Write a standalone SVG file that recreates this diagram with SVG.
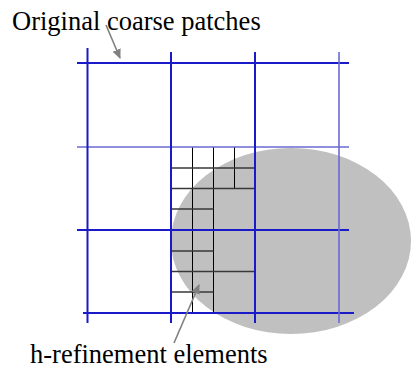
<svg xmlns="http://www.w3.org/2000/svg" width="414" height="371" viewBox="0 0 414 371">
  <defs>
    <style>
      .coarse { stroke: #1a1ac8; stroke-width: 2; fill: none; }
      .coarse-lt { stroke: #6a6ad2; stroke-width: 1.6; fill: none; }
      .fine-v { stroke: #000000; stroke-width: 1; fill: none; }
      .fine-h { stroke: #383838; stroke-width: 1.4; fill: none; }
      .lead { stroke: #808080; stroke-width: 1.6; fill: none; }
      .label { font-family: "Liberation Serif", "Times New Roman", serif; font-size: 26.5px; fill: #000000; }
    </style>
    <marker id="tip" viewBox="0 0 10 10" refX="9" refY="5" markerWidth="6" markerHeight="6" markerUnits="strokeWidth" orient="auto">
      <path d="M0,0.5 L10,5 L0,9.5 Z" fill="#808080"/>
    </marker>
  </defs>

  <rect width="414" height="371" fill="#ffffff"/>

  <!-- refinement region -->
  <g id="region">
    <ellipse cx="291" cy="241" rx="120" ry="93" fill="#c0c0c0"/>
  </g>

  <!-- h-refined sub-elements inside one coarse cell -->
  <g id="fine-grid">
    <line class="fine-v" x1="192.5" y1="147" x2="192.5" y2="313"/>
    <line class="fine-v" x1="213.5" y1="147" x2="213.5" y2="313"/>
    <line class="fine-v" x1="234.5" y1="147" x2="234.5" y2="188.5"/>
    <line class="fine-h" x1="171" y1="168" x2="255" y2="168"/>
    <line class="fine-h" x1="171" y1="188.5" x2="255" y2="188.5"/>
    <line class="fine-h" x1="171" y1="209" x2="213.5" y2="209"/>
    <line class="fine-h" x1="171" y1="251" x2="213.5" y2="251"/>
    <line class="fine-h" x1="171" y1="271.5" x2="255" y2="271.5"/>
    <line class="fine-h" x1="171" y1="292" x2="213.5" y2="292"/>
  </g>

  <!-- coarse patch boundaries -->
  <g id="coarse-grid">
    <line class="coarse" x1="77" y1="63" x2="349" y2="63"/>
    <line class="coarse-lt" x1="77" y1="147" x2="349" y2="147"/>
    <line class="coarse" x1="77" y1="230" x2="349" y2="230"/>
    <line class="coarse" x1="83" y1="313" x2="354" y2="313"/>
    <line class="coarse" x1="87.5" y1="48" x2="87.5" y2="323"/>
    <line class="coarse" x1="171" y1="52" x2="171" y2="323"/>
    <line class="coarse" x1="255" y1="52" x2="255" y2="323"/>
    <line class="coarse-lt" x1="339" y1="52" x2="339" y2="323"/>
  </g>

  <!-- leader arrows -->
  <g id="connectors">
    <line class="lead" x1="106" y1="25" x2="120" y2="58" marker-end="url(#tip)"/>
    <line class="lead" x1="174" y1="343" x2="199" y2="285" marker-end="url(#tip)"/>
  </g>

  <g id="label-coarse">
    <text class="label" x="12" y="30">Original coarse patches</text>
  </g>
  <g id="label-fine">
    <text class="label" x="30" y="363">h-refinement elements</text>
  </g>
</svg>
